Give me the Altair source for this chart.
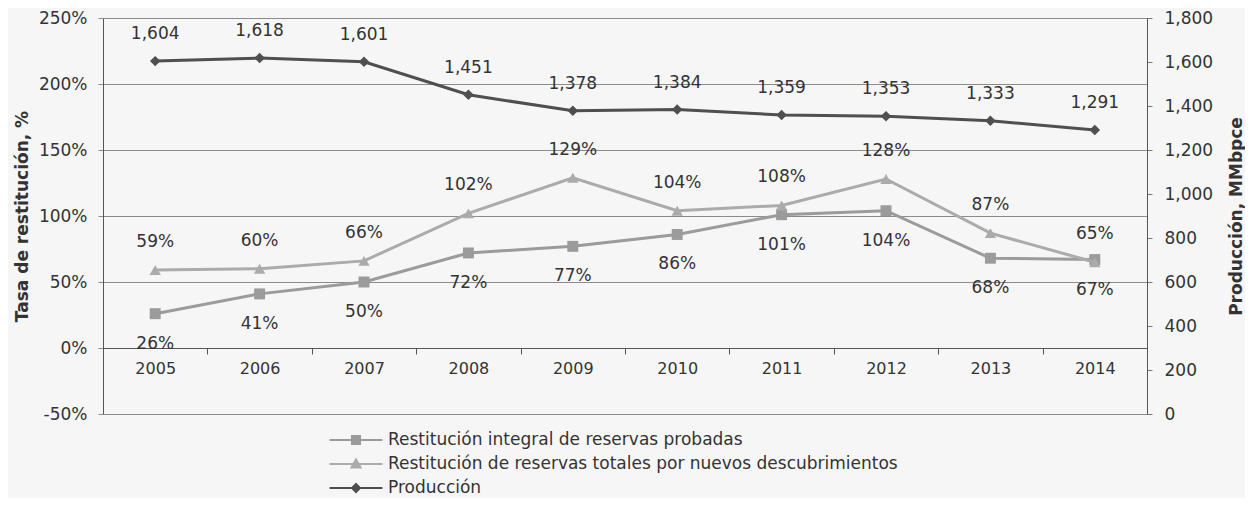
import altair as alt
import pandas as pd

years = ["2005", "2006", "2007", "2008", "2009", "2010", "2011", "2012", "2013", "2014"]
produccion = [1604, 1618, 1601, 1451, 1378, 1384, 1359, 1353, 1333, 1291]
integral = [26, 41, 50, 72, 77, 86, 101, 104, 68, 67]
descubrimientos = [59, 60, 66, 102, 129, 104, 108, 128, 87, 65]

s_int = "Restitución integral de reservas probadas"
s_desc = "Restitución de reservas totales por nuevos descubrimientos"
s_prod = "Producción"
series = [s_int, s_desc, s_prod]
colors = ["#9b9b9b", "#ababab", "#4f4f4f"]
pct_ticks = [-50, 0, 50, 100, 150, 200, 250]
prod_ticks = [0, 200, 400, 600, 800, 1000, 1200, 1400, 1600, 1800]

# legend symbols: line + marker
legend_paths = [
    "M-2.65,0H2.65M-0.4,-0.4H0.4V0.4H-0.4Z",
    "M-2.65,0H2.65M0,-0.45L0.45,0.35H-0.45Z",
    "M-2.65,0H2.65M0,-0.4L0.4,0L0,0.4L-0.4,0Z",
]

df = pd.DataFrame({
    "year": years * 3,
    "value": integral + descubrimientos + produccion,
    "serie": [s_int] * 10 + [s_desc] * 10 + [s_prod] * 10,
})

FONT = "DejaVu Sans"
TXT = "#333333"
GRID = "#8c8c8c"

x_enc = alt.X(
    "year:O",
    scale=alt.Scale(type="band", paddingInner=0, paddingOuter=0),
    axis=alt.Axis(
        title=None, offset=-66, tickBand="extent", labelAngle=0,
        labelFontSize=16, labelColor=TXT, labelPadding=6, tickSize=6,
        tickColor="#555555", domainColor="#555555", grid=False,
    ),
)

y_left = alt.Y(
    "value:Q",
    scale=alt.Scale(domain=[-50, 250], nice=False, zero=False),
    axis=alt.Axis(
        values=pct_ticks, labelExpr="datum.value + '%'",
        title="Tasa de restitución, %", titleFontSize=17, titleFontWeight="bold",
        titleColor=TXT, titlePadding=7, labelFontSize=17, labelColor=TXT,
        labelPadding=11, tickSize=5, tickColor=GRID, grid=True, gridColor=GRID,
        gridWidth=1, domainColor="#555555",
    ),
)

y_right = alt.Y(
    "value:Q",
    scale=alt.Scale(domain=[0, 1800], nice=False),
    axis=alt.Axis(
        orient="right", values=prod_ticks, format=",d",
        title="Producción, MMbpce", titleAngle=270, titleFontSize=17,
        titleFontWeight="bold", titleColor=TXT, titlePadding=33,
        labelFontSize=17, labelColor=TXT, labelPadding=12, tickSize=5,
        tickColor="#777777", grid=False, domainColor="#555555",
    ),
)


def series_layers(name, color, shape, size, dy, y_enc, fmt):
    base = alt.Chart(df).transform_filter(alt.datum.serie == name).encode(x=x_enc, y=y_enc)
    line = base.mark_line(
        color=color, strokeWidth=3,
        point=alt.OverlayMarkDef(filled=True, shape=shape, size=size, color=color, opacity=1),
    )
    text = base.transform_calculate(label=fmt).mark_text(
        dy=dy, fontSize=17, color=TXT, font=FONT
    ).encode(text="label:N")
    return [line, text]


left = alt.layer(
    *series_layers(s_int, colors[0], "square", 120, 30, y_left, "format(datum.value, 'd') + '%'"),
    *series_layers(s_desc, colors[1], "triangle-up", 130, -28, y_left, "format(datum.value, 'd') + '%'"),
)

right = alt.layer(
    *series_layers(s_prod, colors[2], "diamond", 110, -27, y_right, "format(datum.value, ',')"),
)

leg = alt.Legend(
    title=None, orient="none", legendX=242, legendY=411, direction="vertical",
    labelFontSize=17, labelColor=TXT, labelFont=FONT, labelLimit=800,
    symbolSize=400, symbolStrokeWidth=2, rowPadding=5, padding=0, labelOffset=21,
)

legend_layer = alt.Chart(df).transform_filter("false").mark_point(
    filled=True, opacity=1, strokeWidth=2
).encode(
    shape=alt.Shape("serie:N", scale=alt.Scale(domain=series, range=legend_paths), legend=leg),
    fill=alt.Fill("serie:N", scale=alt.Scale(domain=series, range=colors), legend=leg),
    stroke=alt.Stroke("serie:N", scale=alt.Scale(domain=series, range=colors), legend=leg),
)

chart = alt.layer(left, right, legend_layer).resolve_scale(
    y="independent"
).properties(
    width=1044, height=396,
    padding={"left": 5, "top": 1, "right": 0, "bottom": 2},
    background="#f6f6f6",
).configure(font=FONT).configure_view(stroke=None)

chart.save("out.html", embed_options={"renderer": "svg", "actions": False})
